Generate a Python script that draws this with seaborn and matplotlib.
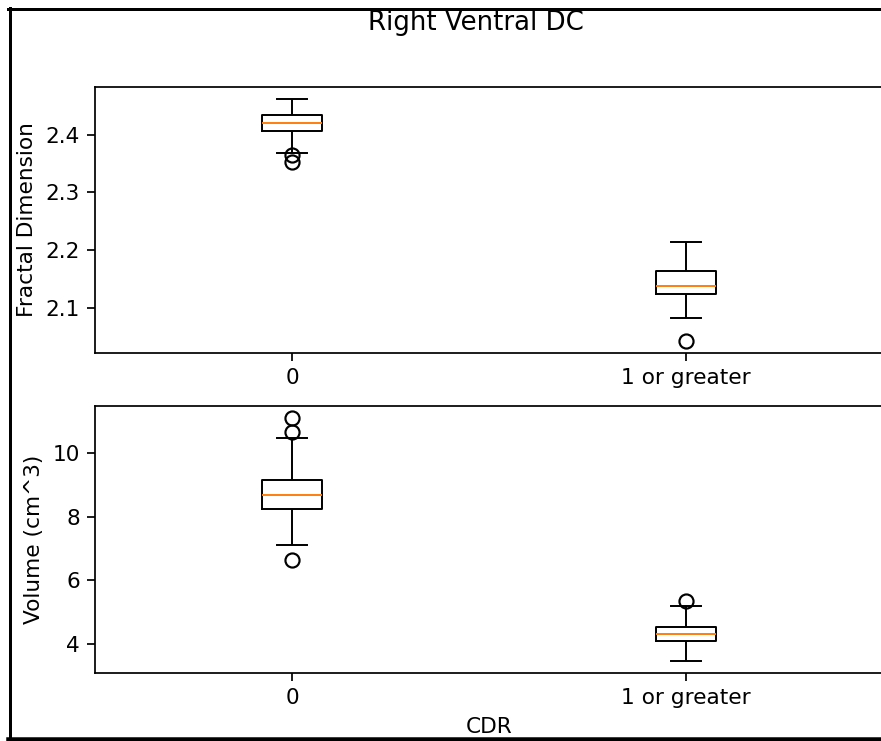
import matplotlib
matplotlib.use("Agg")
import matplotlib.pyplot as plt
from matplotlib.lines import Line2D
import seaborn as sns
import pandas as pd

# ---- data ----
categories = ["0", "1 or greater"]
fd_cdr0 = [2.352, 2.365, 2.369, 2.407, 2.412, 2.417, 2.421, 2.425, 2.430,
           2.434, 2.440, 2.450, 2.462]
fd_cdr1 = [2.042, 2.081, 2.124, 2.130, 2.138, 2.150, 2.164, 2.190, 2.214]
vol_cdr0 = [6.64, 7.10, 7.60, 8.00, 8.24, 8.40, 8.52, 8.62, 8.69, 8.80,
            8.92, 9.05, 9.15, 9.50, 10.49, 10.67, 11.10]
vol_cdr1 = [3.46, 3.90, 4.07, 4.20, 4.29, 4.40, 4.54, 5.20, 5.34]

title = "Right Ventral DC"
xlabel = "CDR"
ylabel_fd = "Fractal Dimension"
ylabel_vol = "Volume (cm^3)"

df_fd = pd.DataFrame({
    "CDR": [categories[0]] * len(fd_cdr0) + [categories[1]] * len(fd_cdr1),
    "value": fd_cdr0 + fd_cdr1,
})
df_vol = pd.DataFrame({
    "CDR": [categories[0]] * len(vol_cdr0) + [categories[1]] * len(vol_cdr1),
    "value": vol_cdr0 + vol_cdr1,
})

W, H, DPI = 881, 741, 156
fig = plt.figure(figsize=(W / DPI, H / DPI), dpi=DPI)

ax1 = fig.add_axes([95 / W, (H - 353) / H, (883 - 95) / W, (353 - 87) / H])
ax2 = fig.add_axes([95 / W, (H - 673) / H, (883 - 95) / W, (673 - 406) / H])

box_kw = dict(x="CDR", y="value", order=categories, width=0.15, fill=False,
              color="black", linecolor="black", linewidth=0.9, fliersize=6.5,
              medianprops={"color": "#ff7f0e"},
              flierprops={"marker": "o", "markerfacecolor": "none",
                          "markeredgecolor": "black"})

sns.boxplot(data=df_fd, ax=ax1, **box_kw)
sns.boxplot(data=df_vol, ax=ax2, **box_kw)

for ax in (ax1, ax2):
    for s in ax.spines.values():
        s.set_linewidth(0.8)

ax1.set_xlabel("")
ax1.set_ylabel(ylabel_fd)
ax2.set_xlabel(xlabel)
ax2.set_ylabel(ylabel_vol)

fig.suptitle(title, x=476 / W, y=1 - 10 / H, va="top", fontsize=12)

# screenshot border
lw3 = 3 * 72 / DPI
fig.add_artist(Line2D([9.5 / W, 9.5 / W], [0, 1 - 8 / H], color="black",
                      lw=lw3, transform=fig.transFigure))
fig.add_artist(Line2D([8 / W, 1], [1 - 8.5 / H, 1 - 8.5 / H], color="black",
                      lw=lw3, transform=fig.transFigure))
fig.add_artist(Line2D([8 / W, 1], [1 - 738.5 / H, 1 - 738.5 / H],
                      color="black", lw=4.5 * 72 / DPI,
                      transform=fig.transFigure))

fig.savefig("out.png", dpi=DPI)
